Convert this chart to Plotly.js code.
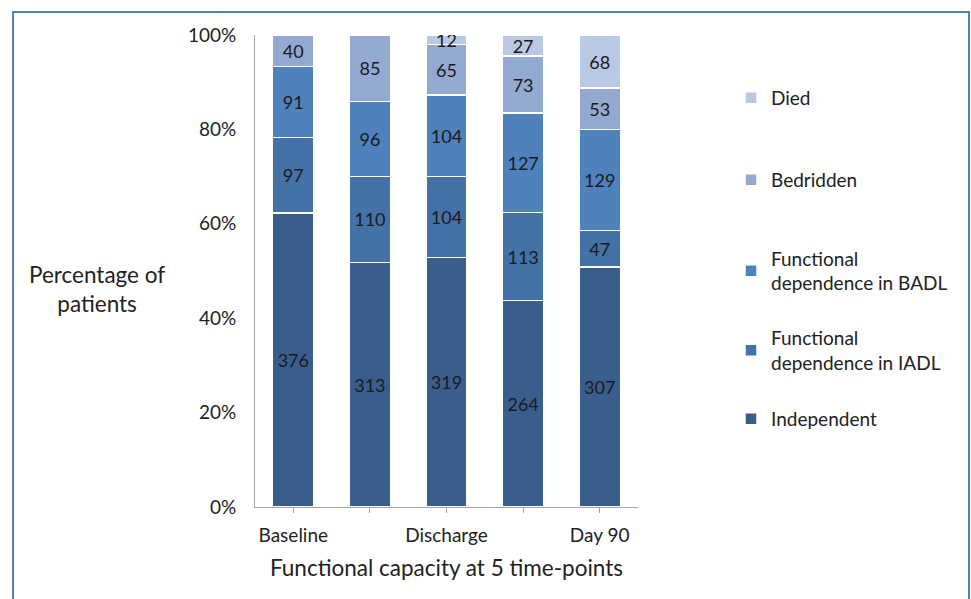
<!DOCTYPE html>
<html>
<head>
<meta charset="utf-8">
<script src="https://cdn.plot.ly/plotly-3.0.1.min.js"></script>
<style>
  html, body { margin: 0; padding: 0; background: #fff; }
  #chart { width: 971px; height: 599px; }
</style>
</head>
<body>
<div id="chart"></div>
<script>
const timepoints = ["Baseline", "", "Discharge", "", "Day 90"];
const independent = [376, 313, 319, 264, 307];
const iadl = [97, 110, 104, 113, 47];
const badl = [91, 96, 104, 127, 129];
const bedridden = [40, 85, 65, 73, 53];
const died = [0, 0, 12, 27, 68];

const seriesNames = ["Independent", "Functional<br>dependence in IADL", "Functional<br>dependence in BADL", "Bedridden", "Died"];
const seriesValues = [independent, iadl, badl, bedridden, died];
const seriesColors = ["#3A5E8C", "#4571A9", "#4F81BD", "#93A9D1", "#B9C8E3"];
const legendY = [0.1864, 0.3316, 0.5, 0.6928, 0.8665];
const legendIds = ["legend", "legend2", "legend3", "legend4", "legend5"];

const xpos = timepoints.map((_, i) => i);
const FONT = "Lato, 'Open Sans', sans-serif";

const traces = seriesValues.map((vals, k) => ({
  type: "bar",
  name: seriesNames[k],
  x: xpos,
  y: vals,
  text: vals.map(v => v === 0 ? "" : String(v)),
  textposition: "inside",
  insidetextanchor: "middle",
  textangle: 0,
  constraintext: "none",
  textfont: { family: FONT, size: 18, color: "#1a1a1a" },
  marker: { color: seriesColors[k], line: { color: "#ffffff", width: 1.5 } },
  legend: legendIds[k],
  hoverinfo: "name+y"
}));

const layout = {
  width: 971,
  height: 599,
  margin: { l: 255, r: 333, t: 35, b: 92 },
  paper_bgcolor: "#ffffff",
  plot_bgcolor: "#ffffff",
  barmode: "stack",
  barnorm: "percent",
  bargap: 0.46,
  font: { family: FONT, size: 19, color: "#222" },
  xaxis: {
    range: [-0.5, 4.5],
    tickmode: "array",
    tickvals: xpos,
    ticktext: timepoints,
    ticks: "outside",
    ticklen: 5,
    tickcolor: "#a6a6a6",
    ticklabelstandoff: 6,
    showline: true,
    linecolor: "#a6a6a6",
    showgrid: false,
    zeroline: false,
    tickfont: { family: FONT, size: 19, color: "#222" },
    title: { text: "Functional capacity at 5 time-points", font: { family: FONT, size: 22.5, color: "#222" }, standoff: 15 }
  },
  yaxis: {
    range: [0, 100],
    dtick: 20,
    ticksuffix: "%",
    ticks: "",
    ticklabelstandoff: 14,
    showline: true,
    linecolor: "#a6a6a6",
    showgrid: false,
    zeroline: false,
    tickfont: { family: FONT, size: 19, color: "#222" }
  },
  annotations: [{
    xref: "paper", yref: "paper",
    x: (97 - 255) / 383, y: (507 - 289) / 472,
    xanchor: "center", yanchor: "middle",
    text: "Percentage of<br>patients",
    showarrow: false,
    align: "center",
    font: { family: FONT, size: 22.5, color: "#222" }
  }],
  shapes: [{
    type: "rect", xref: "paper", yref: "paper",
    x0: (13 - 255) / 383, x1: (969 - 255) / 383,
    y0: (507 - 640) / 472, y1: (507 - 12) / 472,
    line: { color: "#4F81BD", width: 2 },
    fillcolor: "rgba(0,0,0,0)",
    layer: "below"
  }],
  showlegend: true
};

legendIds.forEach((id, k) => {
  layout[id] = {
    x: (731 - 255) / 383,
    y: legendY[k],
    xanchor: "left",
    yanchor: "middle",
    bgcolor: "rgba(0,0,0,0)",
    font: { family: FONT, size: 19, color: "#222" }
  };
});

Plotly.newPlot("chart", traces, layout, { displayModeBar: false, staticPlot: true });
</script>
</body>
</html>
